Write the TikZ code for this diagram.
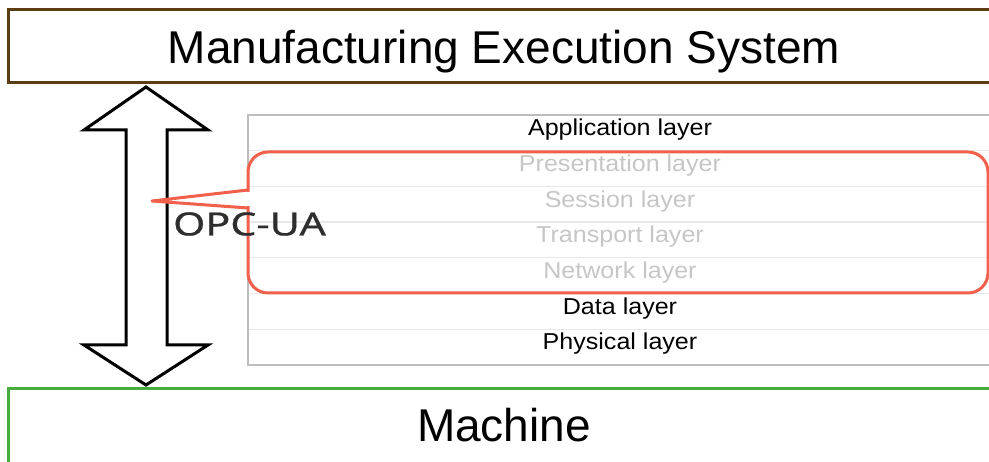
\documentclass[tikz,border=0pt]{standalone}
\usepackage{fontspec}
\setmainfont{Liberation Sans}
\newfontfamily\labelfont[FakeBold=0.6]{Noto Sans}
\definecolor{mesbrown}{HTML}{5E3C14}
\definecolor{machgreen}{HTML}{48AD3E}
\definecolor{calloutred}{HTML}{F0604A}
\definecolor{tablegray}{HTML}{BDBDBD}
\definecolor{rulegray}{HTML}{E8E8E8}
\definecolor{fadedtext}{HTML}{C6C6C6}
\definecolor{opctext}{HTML}{2E2E2E}
\begin{document}
\begin{tikzpicture}[x=1pt,y=-1pt,
  sysbox/.style={draw, line width=3pt, fill=white, inner sep=0pt,
    minimum width=992pt, text height=33pt, font=\fontsize{46}{50}\selectfont},
  layercell/.style={inner sep=0pt, minimum width=752pt, minimum height=35.7pt,
    font=\fontsize{23}{26}\selectfont, xscale=1.09, yshift=3pt},
  activelayer/.style={layercell, text=black},
  hiddenlayer/.style={layercell, text=fadedtext},
  cellrule/.style={draw=rulegray, line width=1.2pt},
  tableframe/.style={draw=tablegray, line width=2.5pt},
  bigarrow/.style={draw=black, line width=3pt, fill=white, line join=miter},
  callout/.style={draw=calloutred, line width=3pt, line join=round},
  protolabel/.style={text=opctext, font=\labelfont\fontsize{32}{35}\selectfont, xscale=1.29, inner sep=0pt}]

\clip (0,0) rectangle (989,462);
\fill[white] (0,0) rectangle (989,462);

% upper and lower systems
\node[sysbox, draw=mesbrown, minimum height=73pt, text height=35pt, text depth=0pt] (mes) at (504,46.5) {Manufacturing Execution System};
\node[sysbox, draw=machgreen, minimum height=81pt, text depth=9pt] (machine) at (504,429.5) {Machine};

% protocol stack table
\foreach \i/\name/\lbl/\sty in {
    0/app/Application layer/activelayer,
    1/pres/Presentation layer/hiddenlayer,
    2/sess/Session layer/hiddenlayer,
    3/trans/Transport layer/hiddenlayer,
    4/net/Network layer/hiddenlayer,
    5/data/Data layer/activelayer,
    6/phys/Physical layer/activelayer} {
  \node[\sty] (\name) at (620, 115+17.85+35.7*\i) {\lbl};
}
\foreach \i in {1,...,6} {
  \draw[cellrule] (248, 115+35.7*\i) -- (1000, 115+35.7*\i);
}
\draw[tableframe] (1000,115) -- (248,115) -- (248,365) -- (1000,365);

% double-headed arrow between the systems
\coordinate (atop) at (146,87);
\coordinate (abot) at (146,385);
\draw[bigarrow] (atop) -- (208,130) -- (167,130) -- (167,345) -- (208,345)
  -- (abot) -- (84,345) -- (126,345) -- (126,130) -- (84,130) -- cycle;

% callout enclosing the layers covered by OPC-UA
\node[callout, rounded corners=20pt, inner sep=0pt, minimum width=740pt,
  minimum height=141pt] (span) at (618,222.5) {};
\coordinate (tip) at (152,201);
\coordinate (pa) at (248,190);
\coordinate (pb) at (248,208);
\fill[white] (244,191.6) rectangle (252,206.4);
\draw[callout] (pa) -- (tip) -- (pb);

\node[protolabel] (opc) at (249.5,224) {OPC-UA};
\end{tikzpicture}
\end{document}
